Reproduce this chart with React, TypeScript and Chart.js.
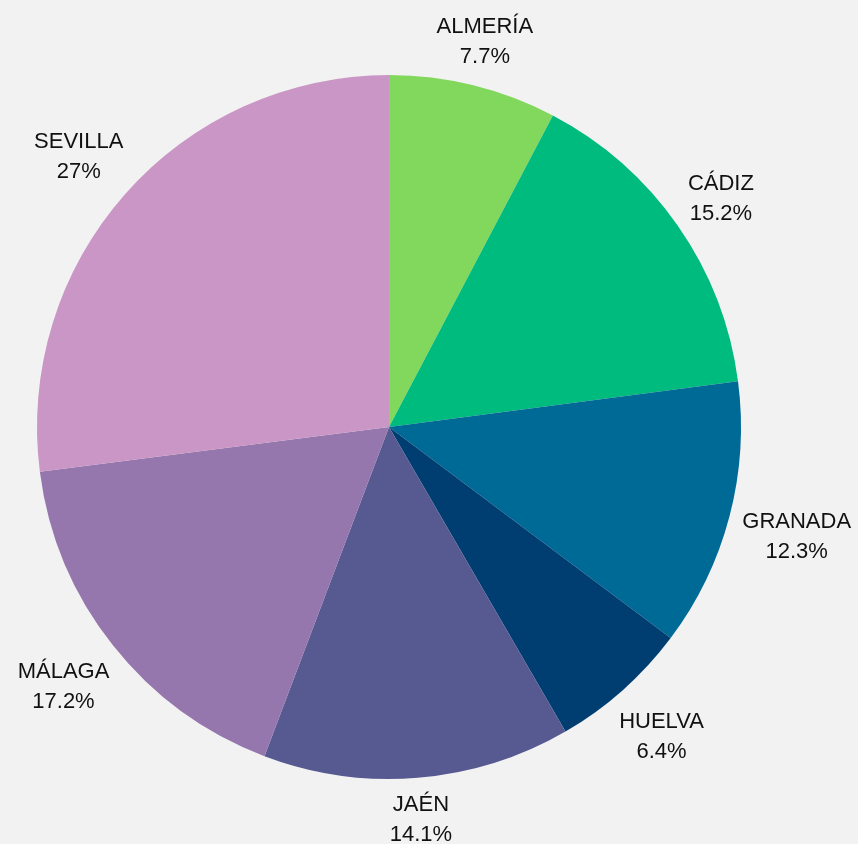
import React, { useEffect, useRef } from "react";
import { Chart, registerables } from "chart.js";

Chart.register(...registerables);

const categories = ["ALMERÍA", "CÁDIZ", "GRANADA", "HUELVA", "JAÉN", "MÁLAGA", "SEVILLA"];
const values = [7.7, 15.2, 12.3, 6.4, 14.1, 17.2, 27];
const percentLabels = ["7.7%", "15.2%", "12.3%", "6.4%", "14.1%", "17.2%", "27%"];
const colors = ["#82d85c", "#00bb7e", "#006a96", "#003e72", "#575a91", "#9677ad", "#ca96c5"];

const FONT = "22px 'Liberation Sans', Arial, sans-serif";
const LINE = 30;
const HALF_H = 27;
const GAP = 10;
const TEXT_DY = 3;

const outsideLabels = {
  id: "outsideLabels",
  afterDraw(chart: any) {
    const ctx = chart.ctx;
    const meta = chart.getDatasetMeta(0);
    ctx.save();
    ctx.font = FONT;
    ctx.fillStyle = "#111111";
    ctx.textAlign = "center";
    ctx.textBaseline = "middle";
    meta.data.forEach((arc: any, i: number) => {
      const { x, y, startAngle, endAngle, outerRadius } = arc.getProps(
        ["x", "y", "startAngle", "endAngle", "outerRadius"],
        true
      );
      const mid = (startAngle + endAngle) / 2;
      const sx = Math.cos(mid);
      const sy = Math.sin(mid);
      const w = Math.max(ctx.measureText(categories[i]).width, ctx.measureText(percentLabels[i]).width);
      const r = outerRadius + GAP + Math.abs(sx) * (w / 2) + Math.abs(sy) * HALF_H;
      const cx = x + sx * r;
      const cy = y + sy * r + TEXT_DY;
      ctx.fillText(categories[i], cx, cy - LINE / 2);
      ctx.fillText(percentLabels[i], cx, cy + LINE / 2);
    });
    ctx.restore();
  },
};

export default function App() {
  const ref = useRef<HTMLCanvasElement | null>(null);
  useEffect(() => {
    document.body.style.margin = "0";
    document.body.style.background = "#f2f2f2";
    const chart = new Chart(ref.current!, {
      type: "pie",
      data: {
        labels: categories,
        datasets: [
          {
            data: values,
            backgroundColor: colors,
            borderWidth: 0,
          },
        ],
      },
      options: {
        responsive: false,
        animation: false,
        layout: { padding: { left: 37, right: 117, top: 75, bottom: 65 } },
        plugins: {
          legend: { display: false },
          tooltip: { enabled: false },
        },
      },
      plugins: [outsideLabels],
    });
    return () => chart.destroy();
  }, []);
  return (
    <div style={{ width: 858, height: 844, background: "#f2f2f2" }}>
      <canvas ref={ref} width={858} height={844} style={{ display: "block" }} />
    </div>
  );
}
